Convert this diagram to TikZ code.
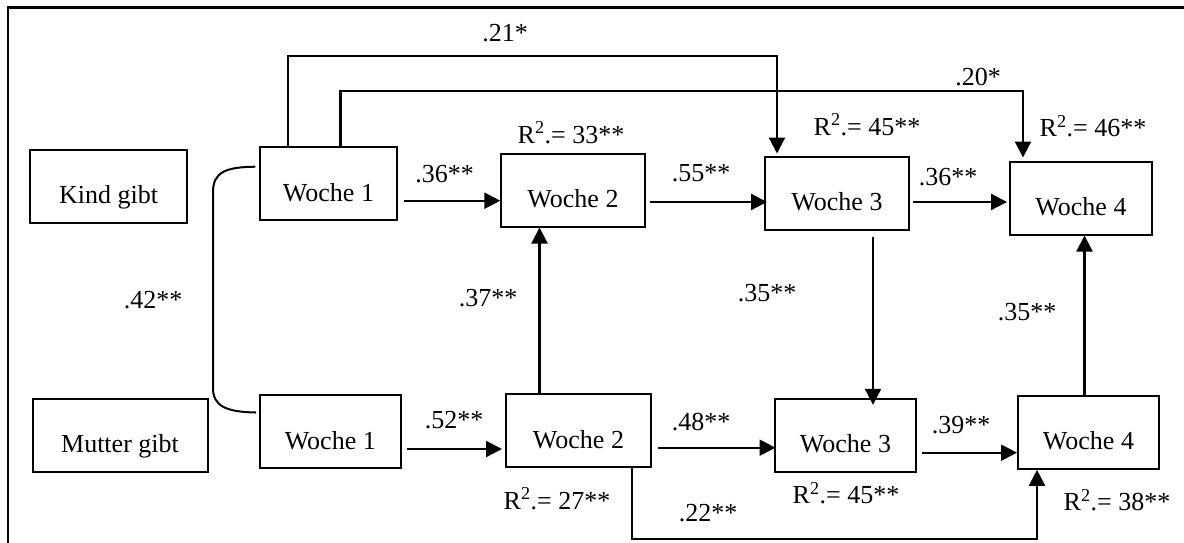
\documentclass[tikz,border=0pt]{standalone}
\usepackage{fontspec}
\setmainfont{Liberation Serif}
\usetikzlibrary{arrows.meta,calc}
\begin{document}
\begin{tikzpicture}[x=1pt,y=-1pt,
  txt/.style={font=\fontsize{26pt}{30pt}\selectfont},
  box/.style={txt,draw,line width=2pt,inner sep=0pt,text height=54pt,text depth=19pt},
  lab/.style={txt,inner sep=0pt,text height=17pt,text depth=0pt},
  ln/.style={line width=2pt},
  arr/.style={line width=2.2pt,-{Triangle[length=16pt,width=16pt]}}]
\useasboundingbox (0,0) rectangle (1184,542);
\clip (0,0) rectangle (1184,542);
\draw[line width=2.6pt] (8,7.5) rectangle (1200,560);

% boxes
\node[box,minimum width=157.5pt] (kind) at (108.7,186.4) {Kind gibt};
\node[box,minimum width=137pt] (k1) at (328.5,183.7) {Woche 1};
\node[box,minimum width=143.4pt] (k2) at (573,190) {Woche 2};
\node[box,minimum width=144pt] (k3) at (837,193) {Woche 3};
\node[box,minimum width=142pt] (k4) at (1081,198) {Woche 4};
\node[box,minimum width=175pt] (mutter) at (120,435.3) {Mutter gibt};
\node[box,minimum width=141.5pt] (m1) at (330.3,431.5) {Woche 1};
\node[box,minimum width=145pt] (m2) at (578.5,430.5) {Woche 2};
\node[box,minimum width=141pt] (m3) at (845.5,435.3) {Woche 3};
\node[box,minimum width=141pt] (m4) at (1088.5,432.3) {Woche 4};

% horizontal arrows
\coordinate (a1) at ([xshift=6pt,yshift=-17pt]k1.east);
\draw[arr] (a1) -- (a1 -| k2.west);
\coordinate (a2) at ([xshift=4.5pt,yshift=-12pt]k2.east);
\draw[arr] (a2) -- ([xshift=3pt]a2 -| k3.west);
\coordinate (a3) at ([xshift=3pt,yshift=-9pt]k3.east);
\draw[arr] (a3) -- ([xshift=-2pt]a3 -| k4.west);
\coordinate (b1) at ([xshift=5pt,yshift=-17.5pt]m1.east);
\draw[arr] (b1) -- ([xshift=-3pt]b1 -| m2.west);
\coordinate (b2) at ([xshift=6pt,yshift=-17.2pt]m2.east);
\draw[arr] (b2) -- ([xshift=1.5pt]b2 -| m3.west);
\coordinate (b3) at ([xshift=5pt,yshift=-17.4pt]m3.east);
\draw[arr] (b3) -- (b3 -| m4.west);

% vertical arrows
\draw[arr] ([xshift=-39pt]m2.north) -- ([xshift=-39pt]m2.north |- k2.south);
\draw[arr] ([xshift=36pt,yshift=-6pt]k3.south) -- ([xshift=36pt,yshift=-7pt]k3.south |- m3.north);
\draw[arr] ([xshift=-4pt]m4.north) -- ([xshift=-4pt]m4.north |- k4.south);

% long connectors
\coordinate (t1) at (0,55.7);
\coordinate (t2) at (0,90.7);
\coordinate (bot) at (0,539.3);
\draw[arr] ([xshift=-40.5pt]k1.north) |- ([xshift=-60pt]k3.north |- t1) -- ([xshift=-60pt,yshift=2pt]k3.north);
\draw[arr] ([xshift=12pt]k1.north) |- ([xshift=-58pt]k4.north |- t2) -- ([xshift=-58pt,yshift=3pt]k4.north);
\draw[arr] ([xshift=53.5pt]m2.south) -- ([xshift=53.5pt]m2.south |- bot) -| ([xshift=-51.5pt]m4.south);

% correlation curve
\coordinate (cs) at ([xshift=-3.6pt,yshift=17pt]k1.west);
\coordinate (ce) at ([xshift=-2.5pt,yshift=19pt]m1.west);
\draw[ln] (cs) .. controls (226,167) and (213,172) .. (213,192) -- (213,388) .. controls (213,406) and (226,412) .. (ce);

% labels
\node[lab] (l21) at (505,33) {.21*};
\node[lab] (l20) at (978,77) {.20*};
\node[lab] (r33) at (571,134.5) {R\textsuperscript{2}.= 33**};
\node[lab] (r45a) at (867,126.5) {R\textsuperscript{2}.= 45**};
\node[lab] (r46) at (1093,128) {R\textsuperscript{2}.= 46**};
\node[lab] (l36a) at (444.6,174) {.36**};
\node[lab] (l55) at (701,173) {.55**};
\node[lab] (l36b) at (948,177) {.36**};
\node[lab] (l42) at (153,300) {.42**};
\node[lab] (l37) at (488,298) {.37**};
\node[lab] (l35a) at (767,293) {.35**};
\node[lab] (l35b) at (1027,312) {.35**};
\node[lab] (l52) at (454,420) {.52**};
\node[lab] (l48) at (701,421.7) {.48**};
\node[lab] (l39) at (961,425) {.39**};
\node[lab] (r27) at (557,500.5) {R\textsuperscript{2}.= 27**};
\node[lab] (r45b) at (846,494.6) {R\textsuperscript{2}.= 45**};
\node[lab] (l22) at (708,513) {.22**};
\node[lab] (r38) at (1117,502) {R\textsuperscript{2}.= 38**};
\end{tikzpicture}
\end{document}
